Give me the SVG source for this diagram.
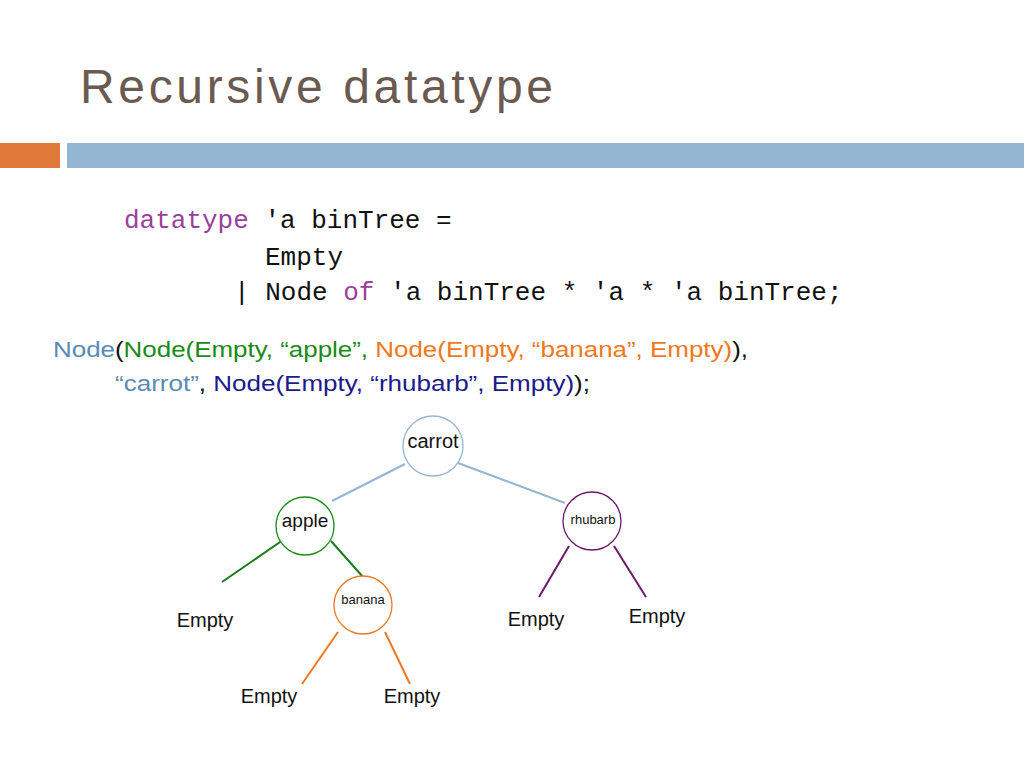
<svg xmlns="http://www.w3.org/2000/svg" width="1024" height="768" viewBox="0 0 1024 768">
<style>
.code{font-family:"Liberation Mono",monospace;font-size:26px;fill:#111}
.kw{fill:#9b3f9b}
.expr{font-family:"Liberation Sans",sans-serif;font-size:22px}
.lbl{font-family:"Liberation Sans",sans-serif;fill:#111;text-anchor:middle}
.node{fill:#fff;stroke-width:1.3}
.edge{stroke-width:2;fill:none}
</style>
<rect width="1024" height="768" fill="#fff"/>
<text x="80" y="103" font-family="Liberation Sans, sans-serif" font-size="48" fill="#6b5a50" textLength="473" lengthAdjust="spacing">Recursive datatype</text>
<rect x="0" y="143" width="60" height="25" fill="#e0793a"/>
<rect x="67" y="143" width="957" height="25" fill="#94b6d2"/>
<text class="code" x="124" y="228"><tspan class="kw">datatype</tspan> 'a binTree =</text>
<text class="code" x="265" y="265">Empty</text>
<text class="code" x="234" y="300">| Node <tspan class="kw">of</tspan> 'a binTree * 'a * 'a binTree;</text>
<text class="expr" x="53" y="357" textLength="695" lengthAdjust="spacingAndGlyphs"><tspan fill="#5b8ab5">Node</tspan><tspan fill="#111">(</tspan><tspan fill="#1a8a1a">Node(Empty, “apple”, </tspan><tspan fill="#f07820">Node(Empty, “banana”, Empty)</tspan><tspan fill="#111">),</tspan></text>
<text class="expr" x="115" y="391" textLength="475" lengthAdjust="spacingAndGlyphs"><tspan fill="#5b8ab5">“carrot”</tspan><tspan fill="#111">, </tspan><tspan fill="#1a1a8a">Node(Empty, “rhubarb”, Empty)</tspan><tspan fill="#111">);</tspan></text>
<g id="connectors">
<line class="edge" x1="332" y1="501" x2="405" y2="464" stroke="#94b6d2"/>
<line class="edge" x1="458" y1="463" x2="565" y2="503" stroke="#94b6d2"/>
<line class="edge" x1="283" y1="540" x2="222" y2="582" stroke="#1a7a1a"/>
<line class="edge" x1="331" y1="541" x2="363" y2="577" stroke="#1a7a1a"/>
<line class="edge" x1="338" y1="632" x2="302" y2="684" stroke="#f07820"/>
<line class="edge" x1="385" y1="632" x2="410" y2="684" stroke="#f07820"/>
<line class="edge" x1="569" y1="546" x2="539" y2="597" stroke="#6a1a6a"/>
<line class="edge" x1="614" y1="546" x2="646" y2="597" stroke="#6a1a6a"/>
</g>
<g id="carrot"><circle class="node" cx="433" cy="446" r="30" stroke="#94b6d2"/><text class="lbl" x="433" y="448" font-size="20">carrot</text></g>
<g id="apple"><circle class="node" cx="305" cy="526" r="29" stroke="#1a8a1a"/><text class="lbl" x="305" y="527" font-size="19">apple</text></g>
<g id="banana"><circle class="node" cx="363" cy="605" r="29" stroke="#f07820"/><text class="lbl" x="363" y="604" font-size="13">banana</text></g>
<g id="rhubarb"><circle class="node" cx="592" cy="521" r="29" stroke="#6a1a6a"/><text class="lbl" x="593" y="524" font-size="13">rhubarb</text></g>
<g id="empty1"><text class="lbl" x="205" y="627" font-size="20">Empty</text></g>
<g id="empty2"><text class="lbl" x="269" y="703" font-size="20">Empty</text></g>
<g id="empty3"><text class="lbl" x="412" y="703" font-size="20">Empty</text></g>
<g id="empty4"><text class="lbl" x="536" y="626" font-size="20">Empty</text></g>
<g id="empty5"><text class="lbl" x="657" y="623" font-size="20">Empty</text></g>
</svg>
